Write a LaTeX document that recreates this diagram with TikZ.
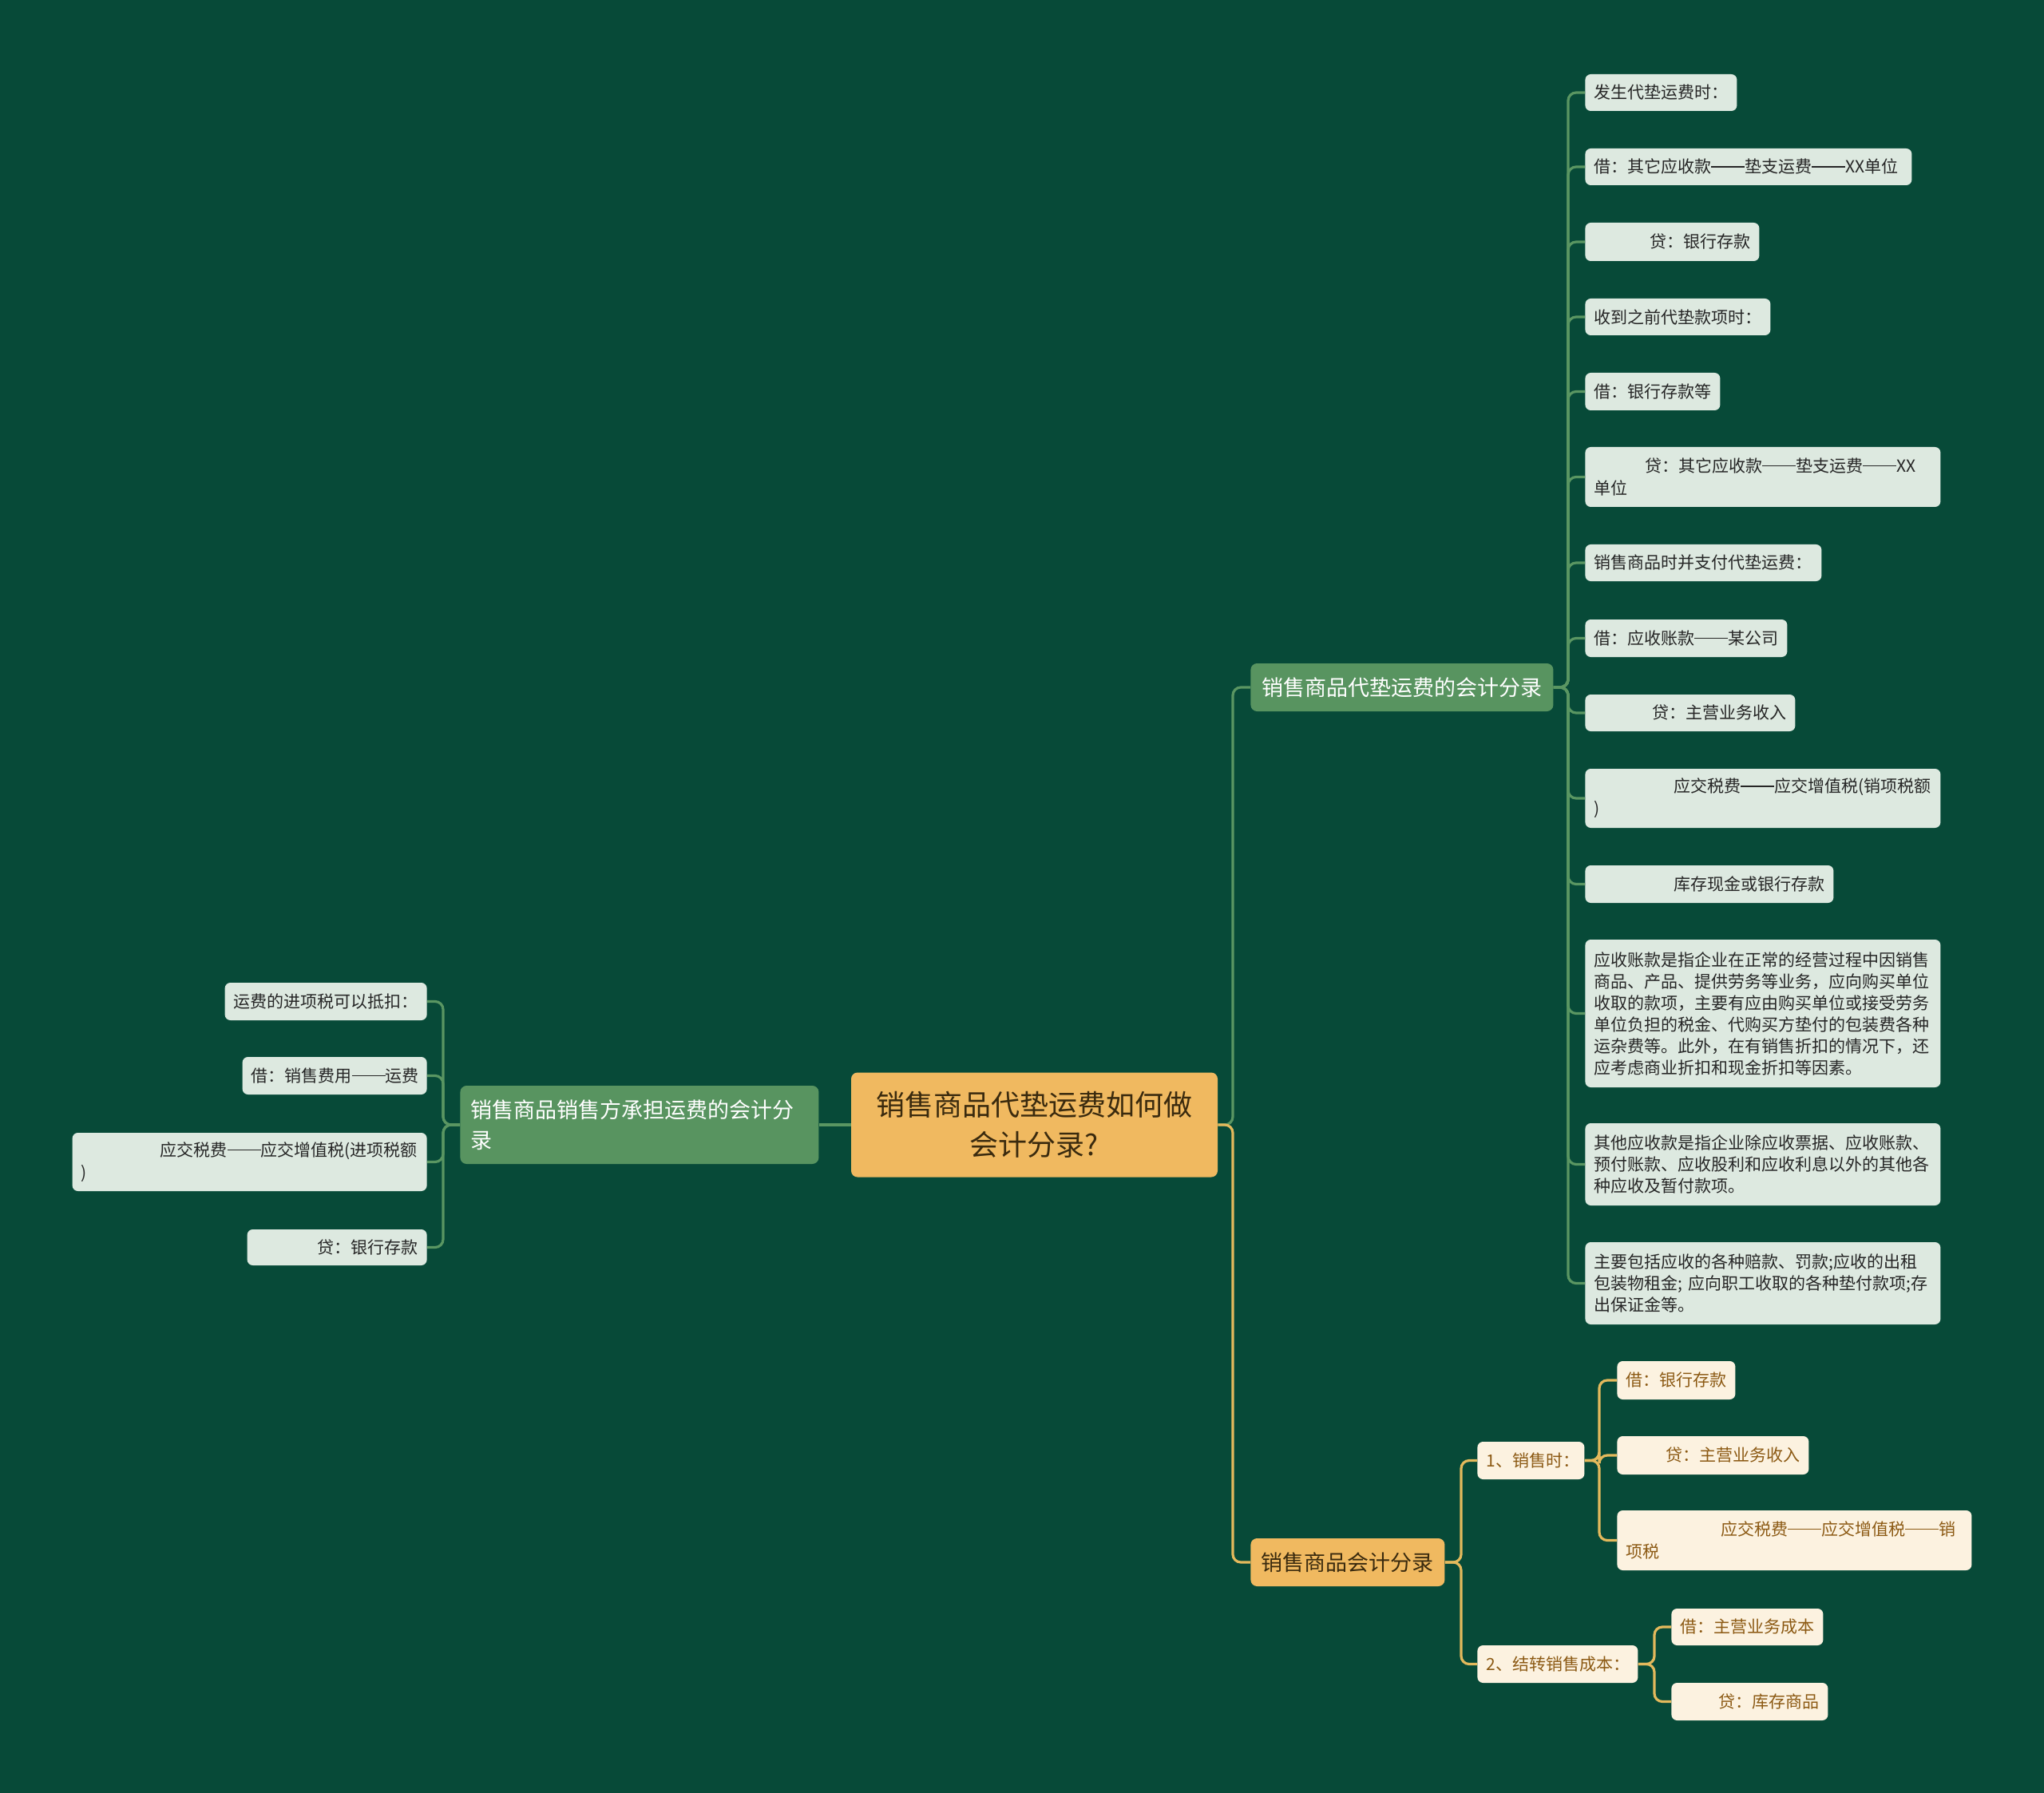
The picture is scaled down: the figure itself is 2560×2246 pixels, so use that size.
\documentclass[tikz,border=0pt]{standalone}
\usepackage{fontspec}
\setmainfont{Noto Sans CJK SC}
\newcommand{\emd}{\rule[0.34em]{2em}{0.065em}}
\definecolor{bg}{HTML}{074A38}
\definecolor{brG}{HTML}{589460}
\definecolor{lineG}{HTML}{5A9662}
\definecolor{leafG}{HTML}{DDE9E0}
\definecolor{orF}{HTML}{F0B960}
\definecolor{lineY}{HTML}{E3B95C}
\definecolor{cream}{HTML}{FCF2E0}
\definecolor{brownT}{HTML}{8C5A14}
\definecolor{darkT}{HTML}{3A2A0E}
\begin{document}
\begin{tikzpicture}[x=0.5pt,y=-0.5pt,
  leafbase/.style={rounded corners=3.5pt, inner xsep=5.5pt, inner ysep=0pt, align=left, font=\fontsize{10.5}{14}\selectfont},
  leafg/.style={leafbase, fill=leafG, text=black!85, anchor=west},
  leafl/.style={leafbase, fill=leafG, text=black!85, anchor=east},
  leafc/.style={leafbase, fill=cream, text=brownT, anchor=west},
  para/.style={font=\fontsize{10.5}{13.5}\selectfont},
  branchG/.style={fill=brG, text=white, rounded corners=4pt, inner xsep=6.5pt, inner ysep=0pt, anchor=west, font=\fontsize{13.5}{18.75}\selectfont},
  branchO/.style={fill=orF, text=darkT, rounded corners=4pt, inner xsep=6.5pt, inner ysep=0pt, anchor=west, font=\fontsize{13.5}{18.75}\selectfont},
  central/.style={fill=orF, text=darkT, rounded corners=4pt, inner sep=0pt, align=center, font=\fontsize{18}{25}\selectfont},
  gline/.style={draw=lineG, line width=1.6pt, rounded corners=5pt},
  yline/.style={draw=lineY, line width=1.6pt, rounded corners=5pt}]
\fill[bg] (0,0) rectangle (2560,2246);
\useasboundingbox (0,0) rectangle (2560,2246);

% central
\node[central, minimum width=229.5pt, minimum height=65.5pt] (c) at (1295.5,1409) {销售商品代垫运费如何做\\会计分录?};

% branches
\node[branchG, minimum width=189.5pt, minimum height=30pt] (b1) at (1566,861) {销售商品代垫运费的会计分录};
\node[branchG, text width=211.5pt, minimum height=49pt, align=left] (b2) at (576,1409) {销售商品销售方承担运费的会计分\\录};
\node[branchO, minimum width=121.5pt, minimum height=30pt] (b3) at (1566,1957) {销售商品会计分录};

% right leaves
\node[leafg, text width=84pt, minimum height=23pt] (r1) at (1985,116) {发生代垫运费时：};
\node[leafg, text width=193.5pt, minimum height=23pt] (r2) at (1985,209) {借：其它应收款\emd 垫支运费\emd XX单位};
\node[leafg, text width=98pt, minimum height=24pt, align=right] (r3) at (1985,303) {贷：银行存款};
\node[leafg, text width=105pt, minimum height=23pt] (r4) at (1985,397) {收到之前代垫款项时：};
\node[leafg, text width=73.5pt, minimum height=23.5pt] (r5) at (1985,490.5) {借：银行存款等};
\node[leafg, text width=211.5pt, minimum height=37.5pt] (r6) at (1985,597.5) {\hspace*{32pt}贷：其它应收款\emd 垫支运费\emd XX\\单位};
\node[leafg, text width=137pt, minimum height=23pt] (r7) at (1985,705) {销售商品时并支付代垫运费：};
\node[leafg, text width=115.5pt, minimum height=23.5pt] (r8) at (1985,799.5) {借：应收账款\emd 某公司};
\node[leafg, text width=120.5pt, minimum height=23pt, align=right] (r9) at (1985,893) {贷：主营业务收入};
\node[leafg, text width=211.5pt, minimum height=37pt] (r10) at (1985,1000) {\hspace*{50pt}应交税费\emd 应交增值税(销项税额\\)};
\node[leafg, text width=144.5pt, minimum height=23.5pt, align=right] (r11) at (1985,1107.5) {库存现金或银行存款};
\node[leafg, para, text width=211.5pt, minimum height=92.5pt] (r12) at (1985,1269.5) {应收账款是指企业在正常的经营过程中因销售\\商品、产品、提供劳务等业务，应向购买单位\\收取的款项，主要有应由购买单位或接受劳务\\单位负担的税金、代购买方垫付的包装费各种\\运杂费等。此外，在有销售折扣的情况下，还\\应考虑商业折扣和现金折扣等因素。};
\node[leafg, para, text width=211.5pt, minimum height=51.5pt] (r13) at (1985,1458.5) {其他应收款是指企业除应收票据、应收账款、\\预付账款、应收股利和应收利息以外的其他各\\种应收及暂付款项。};
\node[leafg, para, text width=211.5pt, minimum height=51.5pt] (r14) at (1985,1607.5) {主要包括应收的各种赔款、罚款;应收的出租\\包装物租金; 应向职工收取的各种垫付款项;存\\出保证金等。};

% left leaves
\node[leafl, text width=115.5pt, minimum height=23.5pt] (l1) at (535,1254.5) {运费的进项税可以抵扣：};
\node[leafl, text width=104.5pt, minimum height=23.5pt] (l2) at (535,1347.5) {借：销售费用\emd 运费};
\node[leafl, text width=211pt, minimum height=36.5pt] (l3) at (535,1455.5) {\hspace*{49.5pt}应交税费\emd 应交增值税(进项税额\\)};
\node[leafl, text width=101.5pt, minimum height=22.5pt, align=right] (l4) at (535,1562.5) {贷：银行存款};

% orange branch children
\node[leafc, text width=56pt, minimum height=23.5pt] (s1) at (1850,1829.5) {1、销售时：};
\node[leafc, text width=89.5pt, minimum height=23.5pt] (s2) at (1850,2084.5) {2、结转销售成本：};
\node[leafc, text width=63pt, minimum height=24pt] (g1) at (2025,1729) {借：银行存款};
\node[leafc, text width=109pt, minimum height=24pt, align=right] (g2) at (2025,1823) {贷：主营业务收入};
\node[leafc, text width=211pt, minimum height=37.5pt] (g3) at (2025,1929.5) {\hspace*{59.5pt}应交税费\emd 应交增值税\emd 销\\项税};
\node[leafc, text width=84pt, minimum height=23pt] (g4) at (2093,2038) {借：主营业务成本};
\node[leafc, text width=87pt, minimum height=23.5pt, align=right] (g5) at (2093,2131.5) {贷：库存商品};

% trunks
\coordinate (tc) at (1544,0);
\coordinate (t1) at (1964,0);
\coordinate (t2) at (555,0);
\coordinate (t3) at (1830,0);
\coordinate (t4) at (2003,0);
\coordinate (t5) at (2072,0);

% connectors
\draw[gline] (c.east) -- (c.east -| tc) |- (b1.west);
\draw[yline] (c.east) -- (c.east -| tc) |- (b3.west);
\draw[gline] (c.west) -- (b2.east);
\foreach \n in {r1,r2,r3,r4,r5,r6,r7,r8,r9,r10,r11,r12,r13,r14}
  \draw[gline] (b1.east) -- (b1.east -| t1) |- (\n.west);
\foreach \n in {l1,l2,l3,l4}
  \draw[gline] (b2.west) -- (b2.west -| t2) |- (\n.east);
\foreach \n in {s1,s2}
  \draw[yline] (b3.east) -- (b3.east -| t3) |- (\n.west);
\foreach \n in {g1,g2,g3}
  \draw[yline] (s1.east) -- (s1.east -| t4) |- (\n.west);
\foreach \n in {g4,g5}
  \draw[yline] (s2.east) -- (s2.east -| t5) |- (\n.west);
\end{tikzpicture}
\end{document}
